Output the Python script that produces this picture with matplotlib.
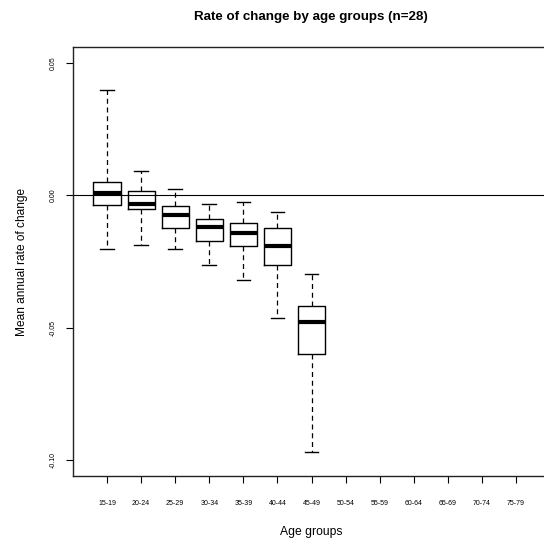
import matplotlib
matplotlib.use("Agg")
import matplotlib.pyplot as plt

plt.rcParams['font.family'] = ['Liberation Sans', 'DejaVu Sans']

# ------------------------------------------------------------------
# Data (box statistics per age group)
# ------------------------------------------------------------------
age_groups = ["15-19", "20-24", "25-29", "30-34", "35-39", "40-44", "45-49",
              "50-54", "55-59", "60-64", "65-69", "70-74", "75-79"]

whis_hi = [0.0396, 0.0092, 0.0025, -0.0031, -0.0025, -0.0062, -0.0299]
q3 = [0.0050, 0.0016, -0.0042, -0.0089, -0.0103, -0.0122, -0.0419]
median = [0.0010, -0.0034, -0.0075, -0.0121, -0.0142, -0.0190, -0.0480]
q1 = [-0.0038, -0.0053, -0.0122, -0.0171, -0.0190, -0.0263, -0.0600]
whis_lo = [-0.0203, -0.0189, -0.0203, -0.0265, -0.0320, -0.0463, -0.0971]

y_ticks = [0.05, 0.00, -0.05, -0.10]

# ------------------------------------------------------------------
# Figure
# ------------------------------------------------------------------
fig = plt.figure(figsize=(5.44, 5.43), dpi=100)
ax = fig.add_axes([73 / 544, 1 - 476 / 543, (550 - 73) / 544, (476 - 47) / 543])

stats = []
for i in range(len(median)):
    stats.append(dict(med=median[i], q1=q1[i], q3=q3[i],
                      whislo=whis_lo[i], whishi=whis_hi[i], fliers=[]))

ax.bxp(stats, positions=range(1, len(stats) + 1), widths=0.8,
       showfliers=False, patch_artist=False,
       boxprops=dict(color='black', linewidth=1.0),
       medianprops=dict(color='black', linewidth=3.0, solid_capstyle='butt'),
       whiskerprops=dict(color='black', linewidth=0.9, linestyle=(0, (4, 3))),
       capprops=dict(color='black', linewidth=1.0),
       capwidths=0.4)

ax.axhline(0, color='black', linewidth=0.8)

ax.set_xlim(0, 14)
ax.set_ylim(-0.106, 0.056)

ax.set_xticks(range(1, len(age_groups) + 1))
ax.set_xticklabels(age_groups, fontsize=5)
ax.set_yticks(y_ticks)
ax.set_yticklabels([f"{v:.2f}" for v in y_ticks], fontsize=5,
                   rotation=90, va='center')

ax.tick_params(axis='x', length=5, width=0.8, pad=12)
ax.tick_params(axis='y', length=5, width=0.8, pad=7)

for side in ax.spines.values():
    side.set_linewidth(1.0)
    side.set_color('#222222')

ax.set_xlabel("Age groups", fontsize=8.7, labelpad=14)
ax.set_ylabel("Mean annual rate of change", fontsize=8.6, labelpad=15)
fig.text(311 / 544, 1 - 17 / 543, "Rate of change by age groups (n=28)",
         fontsize=9.6, fontweight='bold', ha='center', va='center')

fig.savefig("out.png", dpi=100)
